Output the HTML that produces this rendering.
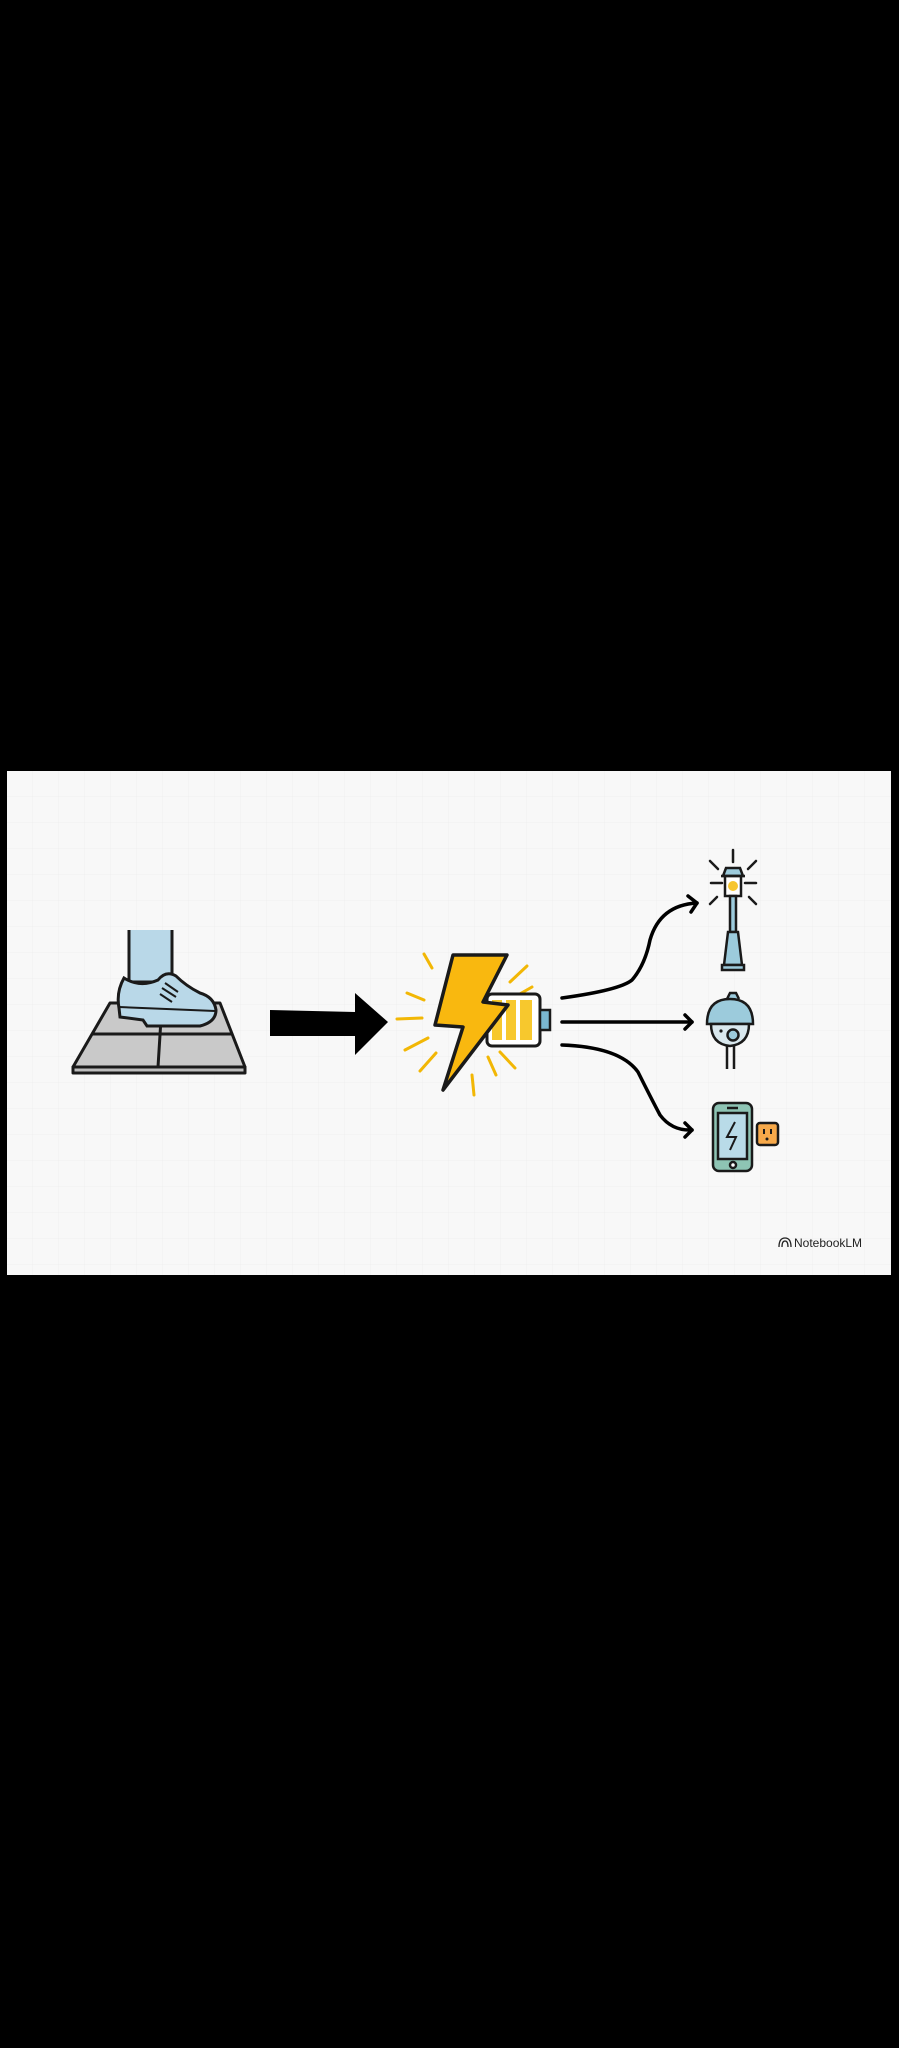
<!DOCTYPE html>
<html><head><meta charset="utf-8"><style>
html,body{margin:0;padding:0;background:#000;width:899px;height:2048px;overflow:hidden}
svg{position:absolute;left:0;top:0}
</style></head><body>
<svg width="899" height="2048" viewBox="0 0 899 2048" xmlns="http://www.w3.org/2000/svg">
<defs>
<pattern id="g" x="7" y="771" width="26" height="26" patternUnits="userSpaceOnUse">
<path d="M26 0V26M0 26H26" stroke="#efefef" stroke-width="1" fill="none"/>
</pattern>
</defs>
<rect x="7" y="771" width="884" height="504" fill="#f8f8f8"/>
<rect x="7" y="771" width="884" height="504" fill="url(#g)"/>

<!-- tiles -->
<g stroke="#1a1a1a" stroke-width="3" stroke-linejoin="round">
<polygon points="110,1003 220,1003 245,1067 73,1067" fill="#c9c9c9"/>
<rect x="73" y="1067" width="172" height="6" fill="#bdbdbd"/>
<line x1="93" y1="1034" x2="232" y2="1034"/>
<line x1="162" y1="1003" x2="158" y2="1067"/>
</g>
<!-- leg -->
<path d="M129 930 L129 982 L172 982 L172 930" fill="#b9d8e8" stroke="#1a1a1a" stroke-width="3"/>
<!-- shoe -->
<path d="M124 978 Q116 992 119 1008 L120 1017 L143 1020 L147 1026 L200 1026 Q216 1022 216 1010 Q214 997 200 993 Q186 986 176 976 Q166 970 158 980 Q140 988 124 978 Z" fill="#b9d8e8" stroke="#1a1a1a" stroke-width="3"/>
<path d="M119 1007 L215 1011" stroke="#1a1a1a" stroke-width="2" fill="none"/>
<path d="M165 983 L178 992 M162 988 L176 997 M160 994 L172 1002" stroke="#1a1a1a" stroke-width="2"/>

<!-- big arrow -->
<polygon points="270,1010 355,1012 355,993 388,1022 355,1055 355,1036 270,1036" fill="#000"/>

<!-- rays -->
<g stroke="#f2b705" stroke-width="3" stroke-linecap="round">
<line x1="424" y1="954" x2="432" y2="968"/>
<line x1="407" y1="993" x2="424" y2="1000"/>
<line x1="397" y1="1019" x2="422" y2="1018"/>
<line x1="405" y1="1050" x2="428" y2="1038"/>
<line x1="420" y1="1071" x2="436" y2="1053"/>
<line x1="472" y1="1075" x2="474" y2="1095"/>
<line x1="488" y1="1057" x2="496" y2="1075"/>
<line x1="500" y1="1052" x2="515" y2="1068"/>
<line x1="510" y1="982" x2="527" y2="966"/>
<line x1="518" y1="995" x2="532" y2="987"/>
</g>
<!-- battery -->
<rect x="487" y="994" width="53" height="52" rx="5" fill="#fff" stroke="#1a1a1a" stroke-width="3"/>
<rect x="540" y="1010" width="10" height="20" fill="#7ab6cf" stroke="#1a1a1a" stroke-width="2.5"/>
<g fill="#f7c82d"><rect x="492" y="1000" width="10" height="40"/><rect x="506" y="1000" width="10" height="40"/><rect x="520" y="1000" width="12" height="40"/></g>
<!-- bolt -->
<polygon points="453,955 507,955 483,1002 508,1005 443,1090 463,1027 435,1025" fill="#f9b80f" stroke="#1a1a1a" stroke-width="3.5" stroke-linejoin="round"/>

<!-- connectors -->
<g stroke="#000" stroke-width="3.5" fill="none" stroke-linecap="round" stroke-linejoin="round">
<path d="M562 998 Q620 990 632 980 Q645 965 650 940 Q660 905 697 903"/>
<path d="M688 896 L697 903 L691 912"/>
<path d="M562 1022 L692 1022"/>
<path d="M685 1015 L692 1022 L685 1029"/>
<path d="M562 1045 Q620 1047 638 1072 Q652 1100 660 1115 Q672 1131 692 1130"/>
<path d="M685 1123 L692 1130 L685 1137"/>
</g>

<!-- lamp -->
<g stroke="#1a1a1a" stroke-width="2.5" stroke-linecap="round">
<line x1="733" y1="850" x2="733" y2="862"/>
<line x1="711" y1="883" x2="722" y2="883"/><line x1="745" y1="883" x2="756" y2="883"/>
<line x1="710" y1="861" x2="718" y2="869"/><line x1="756" y1="861" x2="748" y2="869"/>
<line x1="710" y1="904" x2="717" y2="897"/><line x1="756" y1="904" x2="749" y2="897"/>
</g>
<g stroke="#1a1a1a" stroke-width="2.5" fill="#9ccbdc">
<path d="M723 876 L726 868 L740 868 L743 876 Z"/>
<rect x="725" y="876" width="16" height="20" fill="#fff"/>
<circle cx="733" cy="886" r="5" fill="#f6c52e" stroke="none"/>
<line x1="721" y1="876" x2="745" y2="876"/>
<rect x="730" y="896" width="6" height="36"/>
<path d="M728 932 L738 932 L742 965 L724 965 Z"/>
<rect x="722" y="965" width="22" height="5"/>
</g>
<!-- camera -->
<g stroke="#1a1a1a" stroke-width="2.5" fill="#9ccbdc">
<path d="M727 999 L730 993 L736 993 L739 999"/>
<path d="M707 1024 Q707 999 730 999 Q753 999 753 1024 Z"/>
<path d="M711 1024 L749 1024 Q749 1044 730 1046 Q711 1044 711 1024 Z" fill="#d9e8ee"/>
<circle cx="733" cy="1035" r="5.5" fill="#9ccbdc"/>
<line x1="727" y1="1046" x2="727" y2="1069"/><line x1="734" y1="1046" x2="734" y2="1069"/>
</g>
<circle cx="721" cy="1031" r="1.6" fill="#1a1a1a"/>
<!-- phone -->
<g stroke="#1a1a1a" stroke-width="2.5">
<rect x="713" y="1103" width="39" height="68" rx="6" fill="#8ec4b4"/>
<rect x="718" y="1113" width="29" height="46" fill="#b9dbe8"/>
<line x1="727" y1="1108" x2="738" y2="1108"/>
<circle cx="733" cy="1165" r="3" fill="#fff"/>
<path d="M735 1122 L727 1137 L736 1137 L730 1150" fill="none" stroke-width="2"/>
<rect x="757" y="1123" width="21" height="22" rx="3" fill="#f7a94a"/>
</g>
<g fill="#1a1a1a"><rect x="763" y="1129" width="2" height="5"/><rect x="770" y="1129" width="2" height="5"/><circle cx="767" cy="1139" r="1.5"/></g>

<!-- logo -->
<g fill="none" stroke="#222" stroke-width="1.3">
<path d="M779 1247 Q779 1238 785 1238 Q791 1238 791 1247"/>
<path d="M782 1247 Q782 1241 785 1241 Q788 1241 788 1247"/>
</g>
<text x="794" y="1247" font-family="Liberation Sans, sans-serif" font-size="12" fill="#222">NotebookLM</text>
</svg>
</body></html>
